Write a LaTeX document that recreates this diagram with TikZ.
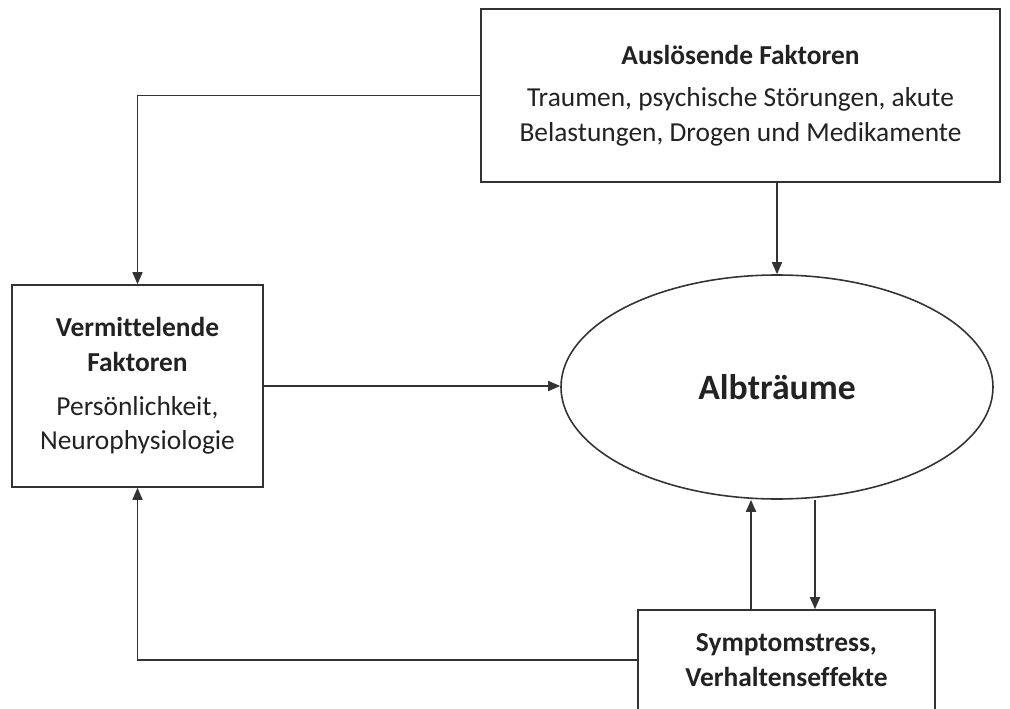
\documentclass[tikz,border=0pt]{standalone}
\usepackage{fontspec}
\setmainfont[Ligatures=NoCommon]{Carlito}
\usepackage{tikz}
\usetikzlibrary{shapes.geometric, arrows.meta, positioning, calc}
\usepackage{xcolor}
\definecolor{LineGray}{HTML}{333333}
\definecolor{TextDark}{HTML}{222222}
\tikzset{
    % Node styles
    factorbox/.style={
        rectangle,
        draw=LineGray,
        fill=white,
        line width=0.9pt,
        align=center,
        text=TextDark,
        font=\fontsize{15.6}{19.8}\selectfont
    },
    dreamellipse/.style={
        ellipse,
        draw=LineGray,
        fill=white,
        line width=0.9pt,
        inner sep=0pt,
        minimum width=8.64cm,
        minimum height=4.48cm,
        text=TextDark,
        font=\fontsize{20.3}{24}\selectfont\bfseries
    },
    % Arrow styles
    myarrow/.style={
        ->,
        >={Triangle[length=2.4mm,width=2mm]},
        line width=0.9pt,
        LineGray
    }
}

\begin{document}
\begin{tikzpicture}
                \useasboundingbox (0,0) rectangle (20.2,14.16);

                % Boxes
                \node[factorbox,minimum width=10.38cm,minimum height=3.46cm] (ausl) at (14.81,12.25)
                    {\textbf{Auslösende Faktoren}\\[4pt]
                     Traumen, psychische Störungen, akute\\
                     Belastungen, Drogen und Medikamente};
                \node[factorbox,minimum width=5.02cm,minimum height=4.04cm] (verm) at (2.75,6.44)
                    {\textbf{Vermittelende}\\\textbf{Faktoren}\\[5pt]
                     Persönlichkeit,\\Neurophysiologie};
                \node[factorbox,minimum width=5.94cm,minimum height=2.0cm] (symp) at (15.73,0.96)
                    {\textbf{Symptomstress,}\\\textbf{Verhaltenseffekte}};

                % Central ellipse
                \node[dreamellipse] (ell) at (15.54,6.42) {Albträume};

                % Helper points
                \coordinate (up) at ($(symp.north)+(-0.71,0)$);
                \coordinate (down) at ($(symp.north)+(0.57,0)$);

                % Arrows
                \draw[myarrow] (ausl.west) -| (verm.north);
                \draw[myarrow] (ausl.south -| ell.north) -- (ell.north);
                \draw[myarrow] (verm.east) -- (verm.east -| ell.west);
                \draw[myarrow] (up) -- (up |- ell.south);
                \draw[myarrow] (down |- ell.south) -- (down);
                \draw[myarrow] (symp.west) -| (verm.south);
            \end{tikzpicture}
\end{document}
